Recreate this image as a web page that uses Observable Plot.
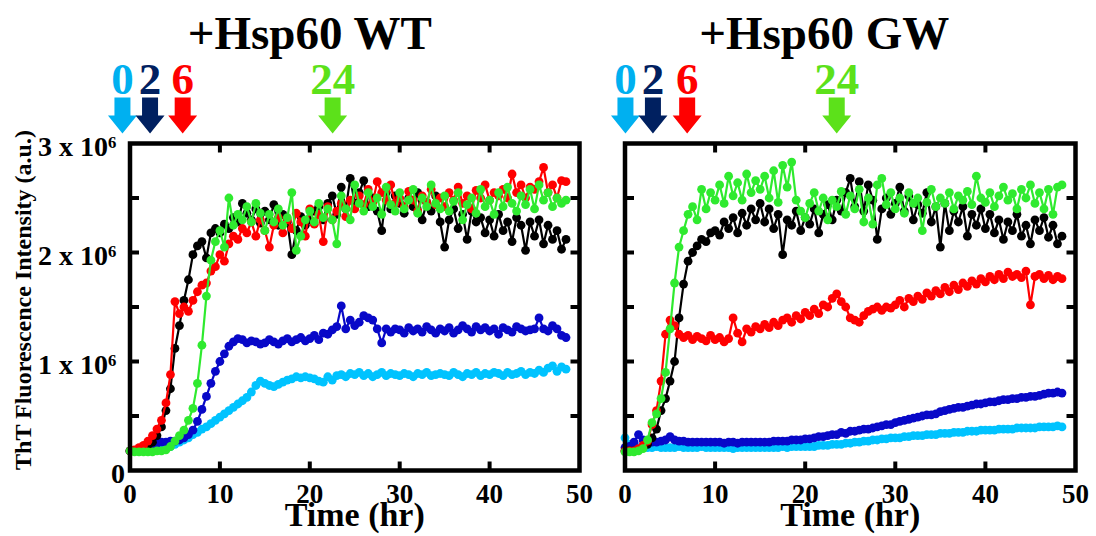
<!DOCTYPE html>
<html><head><meta charset="utf-8">
<script src="https://cdn.jsdelivr.net/npm/d3@7"></script>
<script src="https://cdn.jsdelivr.net/npm/@observablehq/plot@0.6"></script>
<style>
body{margin:0;background:#fff;}
#chart{position:relative;width:1096px;height:536px;overflow:hidden;background:#fff;}
#chart svg{position:absolute;top:0;}
</style></head><body><div id="chart"></div>
<script>
// time (hr)
const times = [0,0.5,1,1.5,2,2.5,3,3.5,4,4.5,5,5.5,6,6.5,7,7.5,8,8.5,9,9.5,
10,10.5,11,11.5,12,12.5,13,13.5,14,14.5,15,15.5,16,16.5,17,17.5,18,18.5,19,19.5,
20,20.5,21,21.5,22,22.5,23,23.5,24,24.5,25,25.5,26,26.5,27,27.5,28,28.5,29,29.5,
30,30.5,31,31.5,32,32.5,33,33.5,34,34.5,35,35.5,36,36.5,37,37.5,38,38.5,39,39.5,
40,40.5,41,41.5,42,42.5,43,43.5,44,44.5,45,45.5,46,46.5,47,47.5,48,48.5];

// ThT fluorescence (x 10^6 a.u.) — +Hsp60 WT panel
const wtLightBlue = [0.18,0.18,0.18,0.18,0.18,0.19,0.19,0.20,0.21,0.22,
0.24,0.26,0.28,0.30,0.33,0.35,0.38,0.40,0.43,0.46,
0.49,0.52,0.55,0.58,0.61,0.64,0.67,0.72,0.78,0.82,
0.80,0.78,0.77,0.79,0.81,0.83,0.84,0.86,0.85,0.86,
0.85,0.84,0.82,0.81,0.86,0.83,0.87,0.88,0.86,0.89,
0.88,0.90,0.87,0.89,0.86,0.88,0.90,0.87,0.89,0.88,
0.87,0.89,0.88,0.86,0.89,0.88,0.90,0.87,0.88,0.89,
0.88,0.87,0.90,0.88,0.86,0.89,0.88,0.90,0.87,0.89,
0.88,0.90,0.89,0.87,0.90,0.88,0.89,0.91,0.88,0.90,
0.89,0.92,0.90,0.94,0.96,0.91,0.95,0.93];
const wtBlue = [0.18,0.18,0.18,0.19,0.21,0.23,0.25,0.26,0.26,0.27,
0.27,0.28,0.30,0.33,0.37,0.45,0.56,0.68,0.80,0.91,
1.00,1.07,1.14,1.18,1.21,1.20,1.17,1.19,1.18,1.16,
1.17,1.20,1.18,1.16,1.19,1.21,1.18,1.20,1.22,1.19,
1.21,1.24,1.20,1.26,1.25,1.29,1.32,1.51,1.30,1.38,
1.33,1.36,1.42,1.40,1.38,1.30,1.17,1.30,1.27,1.30,
1.29,1.26,1.31,1.28,1.30,1.27,1.32,1.29,1.26,1.30,
1.28,1.31,1.26,1.29,1.33,1.30,1.27,1.32,1.29,1.31,
1.28,1.30,1.25,1.31,1.29,1.27,1.32,1.30,1.28,1.29,
1.30,1.40,1.30,1.28,1.33,1.30,1.24,1.22];
const wtBlack = [0.18,0.18,0.19,0.20,0.22,0.26,0.32,0.40,0.55,0.75,
1.12,1.33,1.56,1.75,1.98,2.06,2.10,1.95,2.18,2.22,
2.18,2.26,2.22,2.32,2.28,2.45,2.36,2.30,2.40,2.27,
2.38,2.30,2.44,2.25,2.35,2.28,1.98,2.20,2.33,2.25,
2.30,2.38,2.42,2.30,2.45,2.52,2.35,2.60,2.40,2.68,
2.45,2.55,2.66,2.42,2.50,2.38,2.20,2.55,2.40,2.52,
2.45,2.36,2.50,2.42,2.55,2.30,2.46,2.38,2.52,2.28,
2.05,2.30,2.40,2.22,2.35,2.12,2.38,2.28,2.32,2.18,
2.30,2.15,2.35,2.20,2.28,2.10,2.32,2.25,2.02,2.28,
2.15,2.30,2.08,2.25,2.12,2.20,2.03,2.12];
const wtRed = [0.18,0.19,0.21,0.23,0.27,0.32,0.38,0.46,0.62,0.88,
1.55,1.44,1.50,1.46,1.56,1.64,1.70,1.72,1.83,1.87,
1.98,1.92,2.08,2.15,2.12,2.22,2.18,2.28,2.15,2.30,
2.20,2.05,2.25,2.32,2.18,2.30,2.22,2.36,2.28,2.15,
2.40,2.26,2.35,2.10,2.42,2.30,2.38,2.45,2.33,2.48,
2.40,2.52,2.44,2.58,2.46,2.65,2.55,2.48,2.62,2.45,
2.50,2.42,2.56,2.48,2.38,2.52,2.46,2.58,2.44,2.50,
2.42,2.55,2.48,2.60,2.45,2.52,2.40,2.57,2.50,2.62,
2.48,2.55,2.52,2.58,2.50,2.72,2.55,2.62,2.50,2.60,
2.58,2.65,2.78,2.55,2.62,2.50,2.66,2.65];
const wtGreen = [0.18,0.17,0.17,0.17,0.17,0.17,0.18,0.18,0.19,0.22,
0.27,0.32,0.37,0.46,0.57,0.80,1.15,1.60,1.93,2.10,
2.20,2.05,2.50,2.25,2.35,2.30,2.42,2.28,2.45,2.36,
2.20,2.35,2.28,2.40,2.25,2.32,2.55,2.02,2.15,2.30,
2.38,2.28,2.45,2.32,2.40,2.30,2.08,2.52,2.40,2.30,
2.62,2.45,2.38,2.55,2.42,2.50,2.35,2.60,2.44,2.38,
2.55,2.40,2.48,2.58,2.36,2.50,2.42,2.62,2.45,2.40,
2.52,2.38,2.47,2.55,2.30,2.44,2.50,2.36,2.58,2.42,
2.48,2.35,2.55,2.42,2.60,2.45,2.38,2.52,2.44,2.58,
2.40,2.62,2.48,2.55,2.42,2.50,2.45,2.48];

// ThT fluorescence (x 10^6 a.u.) — +Hsp60 GW panel
const gwLightBlue = [0.30,0.24,0.21,0.21,0.22,0.21,0.21,0.22,0.21,0.21,
0.21,0.21,0.22,0.21,0.21,0.21,0.21,0.22,0.21,0.21,
0.21,0.21,0.21,0.21,0.20,0.21,0.21,0.21,0.21,0.21,
0.21,0.21,0.21,0.21,0.21,0.22,0.21,0.22,0.22,0.22,
0.22,0.22,0.22,0.23,0.23,0.23,0.24,0.24,0.24,0.25,
0.25,0.26,0.26,0.27,0.27,0.28,0.28,0.29,0.29,0.30,
0.30,0.30,0.31,0.31,0.32,0.32,0.32,0.33,0.33,0.33,
0.34,0.34,0.34,0.35,0.35,0.35,0.36,0.36,0.36,0.37,
0.37,0.37,0.37,0.38,0.38,0.38,0.38,0.39,0.39,0.39,
0.39,0.39,0.40,0.40,0.40,0.40,0.41,0.40];
const gwBlue = [0.21,0.22,0.26,0.33,0.28,0.27,0.26,0.26,0.27,0.28,
0.31,0.28,0.27,0.27,0.26,0.26,0.26,0.26,0.26,0.26,
0.26,0.26,0.25,0.26,0.26,0.25,0.26,0.26,0.26,0.26,
0.26,0.26,0.26,0.27,0.27,0.27,0.27,0.28,0.28,0.28,
0.29,0.29,0.30,0.31,0.31,0.32,0.33,0.33,0.35,0.34,
0.36,0.36,0.37,0.38,0.38,0.39,0.40,0.41,0.42,0.42,
0.44,0.45,0.46,0.47,0.48,0.49,0.50,0.51,0.51,0.52,
0.54,0.55,0.56,0.57,0.58,0.58,0.59,0.60,0.61,0.61,
0.62,0.63,0.63,0.64,0.65,0.65,0.66,0.66,0.67,0.67,
0.68,0.68,0.69,0.70,0.71,0.71,0.72,0.71];
const gwBlack = [0.18,0.18,0.18,0.19,0.21,0.24,0.30,0.38,0.55,0.66,
0.82,1.00,1.40,1.71,1.92,2.00,2.06,2.12,2.10,2.18,
2.20,2.16,2.28,2.22,2.32,2.18,2.36,2.25,2.40,2.30,
2.45,2.28,2.40,2.22,2.35,1.98,2.30,2.25,2.38,2.20,
2.32,2.26,2.40,2.18,2.35,2.44,2.30,2.48,2.38,2.55,
2.68,2.42,2.65,2.38,2.62,2.48,2.12,2.40,2.50,2.35,
2.45,2.60,2.38,2.52,2.30,2.44,2.36,2.55,2.28,2.42,
2.05,2.45,2.20,2.38,2.28,2.42,2.15,2.35,2.25,2.40,
2.22,2.35,2.18,2.30,2.12,2.28,2.20,2.35,2.15,2.25,
2.08,2.30,2.20,2.32,2.14,2.25,2.08,2.15];
const gwRed = [0.18,0.18,0.18,0.20,0.23,0.27,0.42,0.55,0.82,1.25,
1.38,1.33,1.25,1.22,1.24,1.20,1.23,1.21,1.19,1.24,
1.20,1.22,1.18,1.21,1.40,1.26,1.18,1.30,1.27,1.32,
1.30,1.34,1.31,1.36,1.33,1.38,1.40,1.36,1.42,1.39,
1.45,1.42,1.48,1.44,1.52,1.50,1.58,1.62,1.55,1.50,
1.40,1.38,1.36,1.42,1.46,1.48,1.50,1.47,1.50,1.49,
1.52,1.56,1.50,1.58,1.55,1.60,1.57,1.63,1.60,1.65,
1.62,1.68,1.64,1.70,1.66,1.72,1.69,1.74,1.71,1.76,
1.73,1.78,1.75,1.80,1.76,1.82,1.78,1.80,1.77,1.83,
1.52,1.78,1.80,1.76,1.79,1.75,1.78,1.76];
const gwGreen = [0.17,0.17,0.17,0.18,0.20,0.28,0.44,0.52,0.66,0.90,
1.30,1.72,2.05,2.20,2.35,2.42,2.30,2.58,2.40,2.55,
2.48,2.62,2.45,2.70,2.52,2.64,2.48,2.72,2.55,2.66,
2.58,2.70,2.50,2.75,2.46,2.80,2.60,2.83,2.48,2.38,
2.32,2.45,2.55,2.38,2.50,2.30,2.48,2.42,2.56,2.35,
2.52,2.40,2.58,2.28,2.50,2.26,2.62,2.68,2.44,2.55,
2.40,2.50,2.36,2.55,2.45,2.50,2.20,2.46,2.58,2.42,
2.50,2.45,2.55,2.40,2.52,2.48,2.56,2.44,2.70,2.50,
2.46,2.55,2.42,2.52,2.60,2.48,2.54,2.40,2.58,2.50,
2.62,2.45,2.55,2.40,2.58,2.35,2.60,2.62];

// series colours (draw order)
const seriesColors = ["#00c3ff", "#0808c8", "#000000", "#ff0000", "#2fea2f"];

// arrows: addition time labels
const arrowLabels = ["0", "2", "6", "24"];
const arrowColors = ["#00b0f0", "#002060", "#ff0000", "#5ce11a"];
const arrowTimesWT = [-0.84, 2.23, 5.86, 22.54];
const arrowTimesGW = [0.05, 3.1, 6.9, 23.5];

// axis ticks and labels
const yTickValues = [0, 1, 2, 3];
const yTickLabels = ["0", "1 x 10\u2076", "2 x 10\u2076", "3 x 10\u2076"];
const yMinorTicks = [0.5, 1, 1.5, 2, 2.5];
const xTickValues = [0, 10, 20, 30, 40, 50];
const xInnerTicks = [10, 20, 30, 40];
const titles = ["+Hsp60 WT", "+Hsp60 GW"];
const xLabel = "Time (hr)";
const yLabel = "ThT Fluorescence Intensity (a.u.)";

const FONT = "'Liberation Serif', 'Times New Roman', serif";
const tickShape = {draw(c, l) { c.moveTo(0, 0); c.lineTo(0, -l); }};
const blockArrow = {draw(c, l) {
  const hw = 8, hh = 14.5, s = l / 2;
  c.moveTo(-hw, 0); c.lineTo(hw, 0); c.lineTo(hw, -s); c.lineTo(hh, -s);
  c.lineTo(0, -l); c.lineTo(-hh, -s); c.lineTo(-hw, -s); c.closePath();
}};
const txt = {fontWeight: "bold", fontFamily: FONT, lineAnchor: "middle"};

function panel({series, arrowTimes, title, titleDx, showY, width, marginLeft, marginRight}) {
  const marks = [];
  series.forEach((vals, k) => {
    const rows = times.map((t, i) => ({t, v: vals[i]}));
    marks.push(Plot.line(rows, {x: "t", y: "v", stroke: seriesColors[k], strokeWidth: 2.2}));
    marks.push(Plot.dot(rows, {x: "t", y: "v", fill: seriesColors[k], r: 4.4, stroke: "none"}));
  });
  marks.push(Plot.frame({stroke: "black", strokeWidth: 4.5}));
  const tk = {length: 9, anchor: "start", shape: tickShape, stroke: "black", strokeWidth: 4, strokeLinecap: "butt"};
  marks.push(Plot.vector(yMinorTicks, {y: d => d, frameAnchor: "left", rotate: 90, ...tk}));
  marks.push(Plot.vector(yMinorTicks, {y: d => d, frameAnchor: "right", rotate: -90, ...tk}));
  marks.push(Plot.vector(xInnerTicks, {x: d => d, frameAnchor: "bottom", rotate: 0, ...tk}));
  marks.push(Plot.vector(xInnerTicks, {x: d => d, frameAnchor: "top", rotate: 180, ...tk}));
  marks.push(Plot.text(xTickValues, {x: d => d, text: d => String(d), frameAnchor: "bottom", dy: 24,
    fontSize: 27, fill: "black", ...txt}));
  marks.push(Plot.text([xLabel], {frameAnchor: "bottom", textAnchor: "middle", dy: 45, fontSize: 34, fill: "black", ...txt}));
  if (showY) {
    const yRows = yTickValues.map((v, i) => ({v, label: yTickLabels[i]}));
    marks.push(Plot.text(yRows.filter(d => d.v > 0), {y: "v", text: "label", frameAnchor: "left", textAnchor: "start",
      dx: -92, dy: 4, fontSize: 28, fill: "black", ...txt}));
    marks.push(Plot.text(yRows.filter(d => d.v === 0), {y: "v", text: "label", frameAnchor: "left", textAnchor: "end",
      dx: -5, dy: 4, fontSize: 28, fill: "black", ...txt}));
    marks.push(Plot.text([yLabel], {frameAnchor: "left", textAnchor: "middle", rotate: -90, dx: -107, dy: -7,
      fontSize: 24, fill: "black", ...txt}));
  }
  const arrows = arrowLabels.map((label, i) => ({t: arrowTimes[i], label, color: arrowColors[i]}));
  marks.push(Plot.vector(arrows, {x: "t", frameAnchor: "top", dy: -46, rotate: 180, length: 36, anchor: "start",
    shape: blockArrow, fill: "color", stroke: "none"}));
  marks.push(Plot.text(arrows, {x: "t", text: "label", fill: "color", frameAnchor: "top", dy: -64.4,
    fontSize: 45, ...txt}));
  marks.push(Plot.text([title], {frameAnchor: "top", textAnchor: "middle", dx: titleDx, dy: -109.4, fontSize: 47,
    fill: "black", ...txt}));

  return Plot.plot({
    width, height: 536, marginTop: 143, marginBottom: 66, marginLeft, marginRight,
    x: {domain: [0, 50], axis: null},
    y: {domain: [0, 3], axis: null},
    color: {type: "identity"},
    style: {fontFamily: FONT, background: "transparent", overflow: "visible"},
    marks
  });
}

const chart = document.getElementById("chart");
const left = panel({series: [wtLightBlue, wtBlue, wtBlack, wtRed, wtGreen], arrowTimes: arrowTimesWT,
  title: titles[0], titleDx: -45, showY: true, width: 600, marginLeft: 129.5, marginRight: 21});
left.style.left = "0px";
const right = panel({series: [gwLightBlue, gwBlue, gwBlack, gwRed, gwGreen], arrowTimes: arrowTimesGW,
  title: titles[1], titleDx: -26, showY: false, width: 496, marginLeft: 24.5, marginRight: 21});
right.style.left = "600px";
chart.appendChild(left);
chart.appendChild(right);
</script>
</body></html>
